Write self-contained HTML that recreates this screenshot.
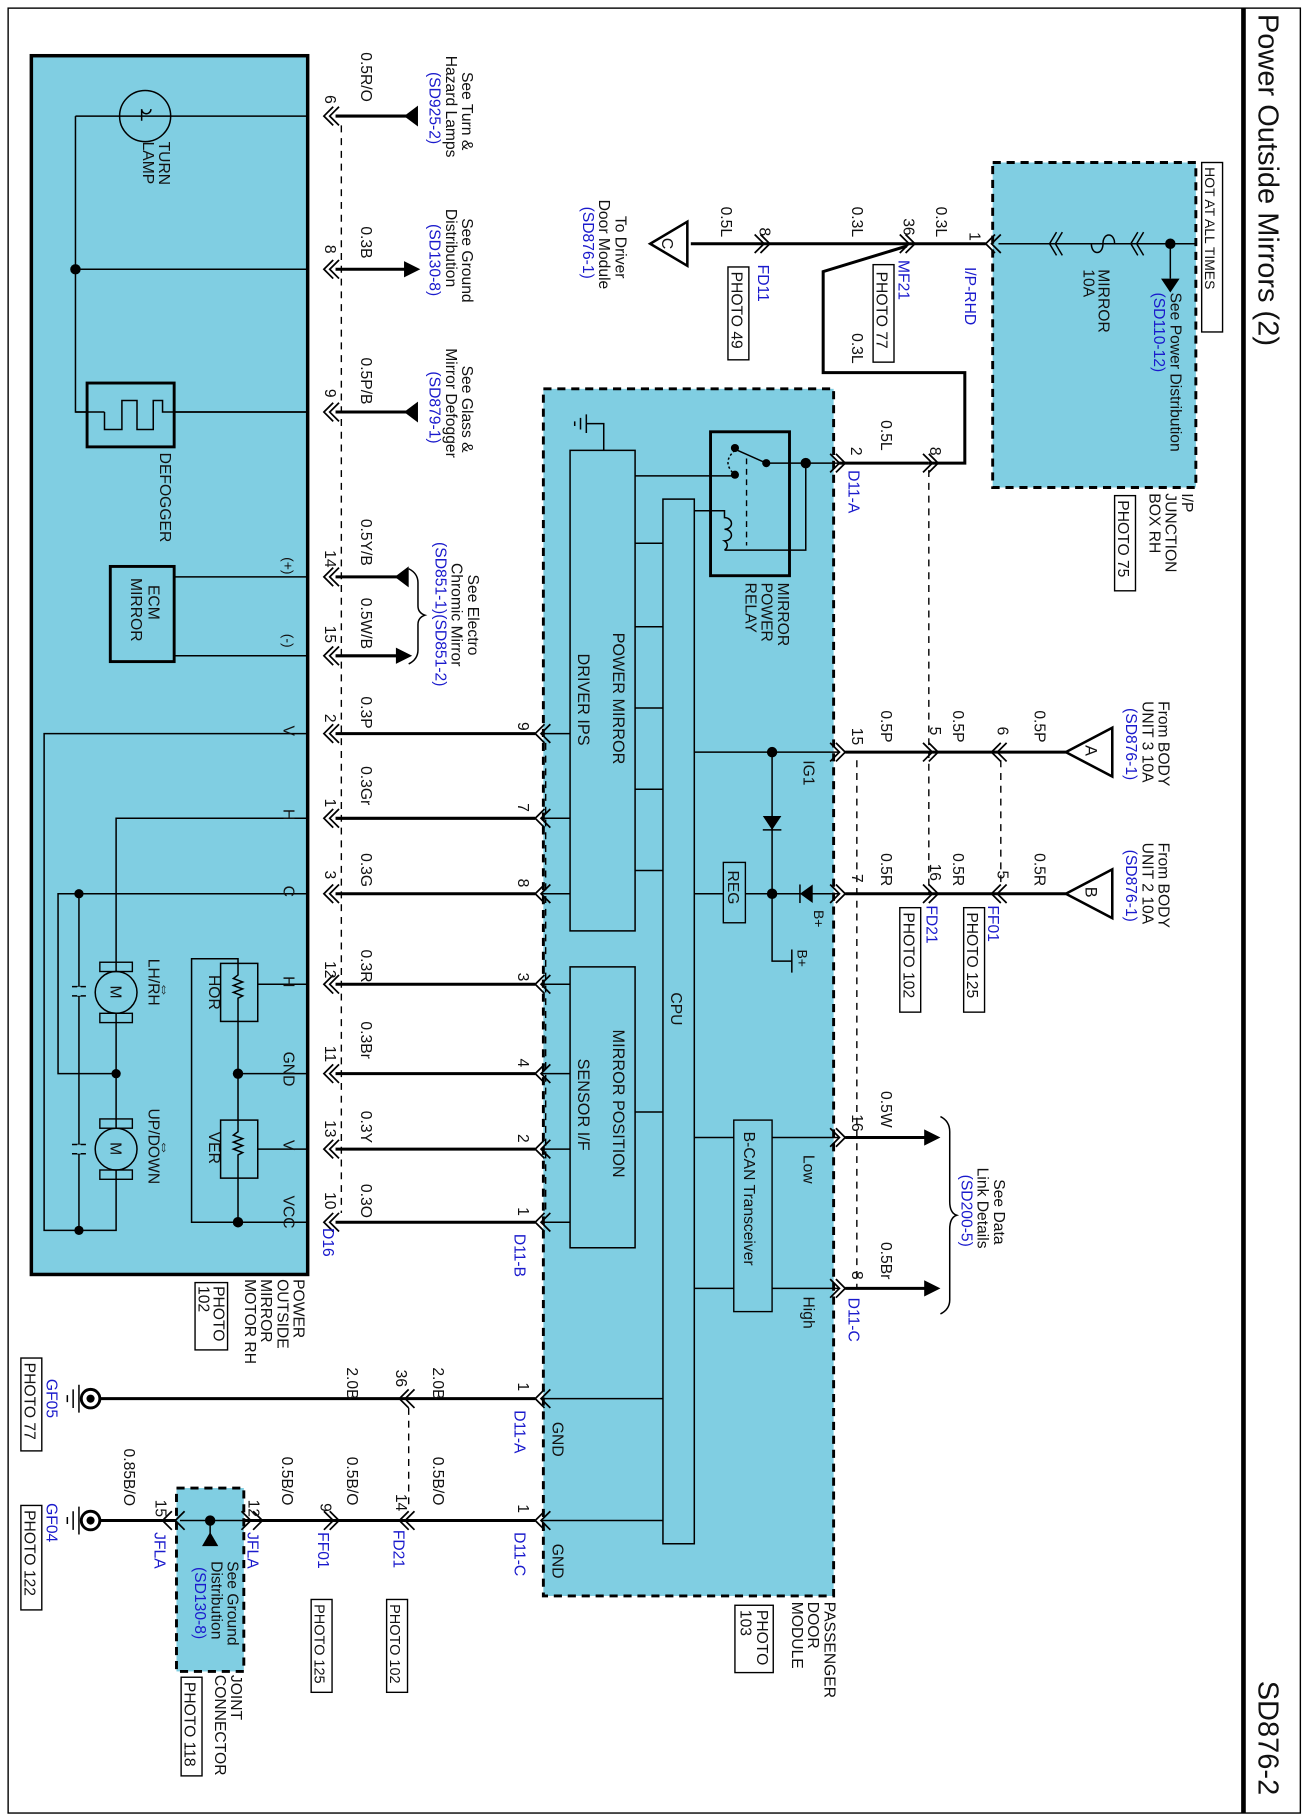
<!DOCTYPE html>
<html><head><meta charset="utf-8"><style>
html,body{margin:0;padding:0;background:#fff;}
svg{display:block}
text{font-family:"Liberation Sans",Arial,sans-serif;font-size:13.5px;fill:#111}
.b{fill:#1a1acc}
.s{font-size:12px}
.w{stroke:#000;stroke-width:2.6;fill:none}
.n{stroke:#000;stroke-width:1.3;fill:none}
.d{stroke:#000;stroke-width:1.2;fill:none;stroke-dasharray:6,5}
.ch{stroke:#000;stroke-width:1.5;fill:none}
</style></head><body>
<svg width="1305" height="1820" viewBox="0 0 1124 1568" preserveAspectRatio="none" xmlns="http://www.w3.org/2000/svg">
<rect x="7" y="7" width="1113" height="1555" fill="none" stroke="#000" stroke-width="1.2"/>
<line x1="1071" y1="7" x2="1071" y2="1562" stroke="#000" stroke-width="4"/>
<text x="1084" y="12" transform="rotate(90 1084 12)" style="font-size:25px">Power Outside Mirrors (2)</text>
<text x="1084" y="1448" transform="rotate(90 1084 1448)" style="font-size:25px">SD876-2</text>

<!-- junction box -->
<rect x="855" y="140" width="175" height="280" fill="#80cee2" stroke="#000" stroke-width="2.5" stroke-dasharray="7,5"/>
<rect x="1035" y="140" width="18" height="146" fill="#fff" stroke="#000" stroke-width="1.2"/>
<text x="1038" y="144" transform="rotate(90 1038 144)" class="s">HOT AT ALL TIMES</text>
<path class="n" d="M1030 210 H860"/>
<circle cx="1008" cy="210" r="4.5"/>
<path class="n" d="M1008 210 V240"/><path d="M1000 240 L1016 240 L1008 252Z"/>
<text x="1008" y="252" transform="rotate(90 1008 252)">See Power Distribution</text>
<text x="994" y="252" transform="rotate(90 994 252)" class="b">(SD110-12)</text>
<path class="n" d="M985 200 L979 210 L985 220 M980 200 L974 210 L980 220"/>
<path class="n" d="M960 210 C 960 200, 950 200, 950 210 C 950 220, 940 220, 940 210"/>
<path class="n" d="M915 200 L909 210 L915 220 M910 200 L904 210 L910 220"/>
<text x="946" y="232" transform="rotate(90 946 232)">MIRROR</text>
<text x="933" y="232" transform="rotate(90 933 232)">10A</text>
<text x="1018" y="425" transform="rotate(90 1018 425)">I/P</text>
<text x="1004" y="425" transform="rotate(90 1004 425)">JUNCTION</text>
<text x="990" y="425" transform="rotate(90 990 425)">BOX RH</text>
<rect x="960" y="427" width="18" height="82" fill="none" stroke="#000" stroke-width="1.2"/>
<text x="963" y="431" transform="rotate(90 963 431)">PHOTO 75</text>

<!-- top wire -->
<path class="ch" d="M857 202 L849 210 L857 218 M862 202 L854 210 L862 218"/>
<path class="w" d="M849 210 H595"/>
<text x="835" y="200" transform="rotate(90 835 200)">1</text>
<text x="831" y="230" transform="rotate(90 831 230)" class="b">I/P-RHD</text>
<text x="806" y="178" transform="rotate(90 806 178)">0.3L</text>
<path class="ch" d="M775 202 L783 210 L775 218 M780 202 L788 210 L780 218"/>
<text x="778" y="188" transform="rotate(90 778 188)">36</text>
<text x="774" y="224" transform="rotate(90 774 224)" class="b">MF21</text>
<rect x="752" y="228" width="18" height="84" fill="none" stroke="#000" stroke-width="1.2"/>
<text x="755" y="234" transform="rotate(90 755 234)">PHOTO 77</text>
<text x="734" y="178" transform="rotate(90 734 178)">0.3L</text>
<text x="734" y="287" transform="rotate(90 734 287)">0.3L</text>
<path class="w" d="M781 212 L709 234 V321 H831 V399 H800"/>
<path class="ch" d="M650 202 L658 210 L650 218 M655 202 L663 210 L655 218"/>
<text x="654" y="196" transform="rotate(90 654 196)">8</text>
<text x="621" y="178" transform="rotate(90 621 178)">0.5L</text>
<text x="653" y="228" transform="rotate(90 653 228)" class="b">FD11</text>
<rect x="627" y="230" width="18" height="80" fill="none" stroke="#000" stroke-width="1.2"/>
<text x="630" y="234" transform="rotate(90 630 234)">PHOTO 49</text>
<path d="M592 191 L592 229 L560 210Z" fill="#fff" stroke="#000" stroke-width="2.2"/>
<text x="570" y="205" transform="rotate(90 570 205)">C</text>
<text x="530" y="186" transform="rotate(90 530 186)">To Driver</text>
<text x="516" y="172" transform="rotate(90 516 172)">Door Module</text>
<text x="502" y="178" transform="rotate(90 502 178)" class="b">(SD876-1)</text>

<!-- wire to D11-A pin 2 -->
<path class="ch" d="M795 391 L803 399 L795 407 M800 391 L808 399 L800 407"/>
<text x="801" y="385" transform="rotate(90 801 385)">8</text>
<path class="w" d="M800 399 H722"/>
<text x="759" y="362" transform="rotate(90 759 362)">0.5L</text>
<text x="733" y="385" transform="rotate(90 733 385)">2</text>
<text x="731" y="405" transform="rotate(90 731 405)" class="b">D11-A</text>
<path class="d" d="M800 405 V770"/>

<!-- module -->
<rect x="468" y="335" width="250" height="1040" fill="#80cee2" stroke="#000" stroke-width="2.5" stroke-dasharray="7,5"/>
<text x="710" y="1380" transform="rotate(90 710 1380)">PASSENGER</text>
<text x="696" y="1380" transform="rotate(90 696 1380)">DOOR</text>
<text x="682" y="1380" transform="rotate(90 682 1380)">MODULE</text>
<rect x="633" y="1383" width="33" height="58" fill="none" stroke="#000" stroke-width="1.2"/>
<text x="652" y="1387" transform="rotate(90 652 1387)">PHOTO</text>
<text x="638" y="1387" transform="rotate(90 638 1387)">103</text>
<!-- relay -->
<rect x="612" y="372" width="68" height="124" fill="none" stroke="#000" stroke-width="2.5"/>
<path class="n" d="M722 399 H660 L633 387"/>
<circle cx="633" cy="386" r="3.5"/><circle cx="633" cy="409" r="3.5"/><circle cx="660" cy="399" r="3.5"/><circle cx="694" cy="399" r="4.5"/>
<path d="M633 388 C625 395, 625 402, 633 409" stroke="#000" stroke-width="1.3" fill="none" stroke-dasharray="2,2"/>
<path class="n" d="M547 410 H633"/>
<path d="M643 395 V470" stroke="#000" stroke-width="1.2" stroke-dasharray="5,4"/>
<path class="n" d="M694 399 V474 H624 M598 440 H624 V446 a6 5 0 0 1 0 10 a6 5 0 0 1 0 10 a6 5 0 0 1 0 8"/>
<text x="670" y="502" transform="rotate(90 670 502)">MIRROR</text>
<text x="656" y="502" transform="rotate(90 656 502)">POWER</text>
<text x="642" y="502" transform="rotate(90 642 502)">RELAY</text>
<!-- ground in module -->
<path class="n" d="M520 388 V365 H505 M505 357 V373 M500 360 V370 M495 363 V367"/>
<!-- IPS -->
<rect x="491" y="388" width="56" height="414" fill="none" stroke="#000" stroke-width="1.3"/>
<text x="528" y="545" transform="rotate(90 528 545)" style="font-size:14px">POWER MIRROR</text>
<text x="498" y="563" transform="rotate(90 498 563)" style="font-size:14px">DRIVER IPS</text>
<!-- CPU -->
<rect x="571" y="430" width="27" height="900" fill="none" stroke="#000" stroke-width="1.3"/>
<text x="578" y="855" transform="rotate(90 578 855)">CPU</text>
<path class="n" d="M547 468 H571 M547 540 H571 M547 610 H571 M547 680 H571 M547 750 H571 M547 958 H571"/>
<!-- Sensor -->
<rect x="491" y="833" width="56" height="242" fill="none" stroke="#000" stroke-width="1.3"/>
<text x="528" y="887" transform="rotate(90 528 887)" style="font-size:14px">MIRROR POSITION</text>
<text x="498" y="912" transform="rotate(90 498 912)" style="font-size:14px">SENSOR I/F</text>
<!-- IG1 / B+ -->
<path class="n" d="M598 648 H722 M665 648 V828 H682 M682 818 V838"/>
<circle cx="665" cy="648" r="4.5"/><circle cx="665" cy="770" r="4.5"/>
<path d="M657 703 L673 703 L665 715Z"/><path class="n" d="M657 715 H673"/>
<path class="n" d="M598 770 H623 M642 770 H722"/>
<rect x="623" y="743" width="19" height="52" fill="none" stroke="#000" stroke-width="1.2"/>
<text x="627" y="750" transform="rotate(90 627 750)">REG</text>
<path d="M700 762 L700 778 L689 770Z"/><path class="n" d="M689 762 V778"/>
<text x="692" y="655" transform="rotate(90 692 655)">IG1</text>
<text x="701" y="784" transform="rotate(90 701 784)" class="s">B+</text>
<text x="687" y="818" transform="rotate(90 687 818)" class="s">B+</text>
<!-- B-CAN -->
<rect x="632" y="965" width="33" height="165" fill="none" stroke="#000" stroke-width="1.2"/>
<text x="641" y="975" transform="rotate(90 641 975)">B-CAN Transceiver</text>
<path class="n" d="M598 980 H632 M665 980 H722 M598 1110 H632 M665 1110 H722"/>
<text x="692" y="995" transform="rotate(90 692 995)">Low</text>
<text x="692" y="1117" transform="rotate(90 692 1117)">High</text>
<!-- module right chevrons -->
<path class="ch" d="M715 391 L723 399 L715 407 M715 640 L723 648 L715 656 M715 762 L723 770 L715 778 M715 972 L723 980 L715 988 M715 1102 L723 1110 L715 1118"/>
<path class="ch" d="M720 391 L728 399 L720 407 M720 640 L728 648 L720 656 M720 762 L728 770 L720 778 M720 972 L728 980 L720 988 M720 1102 L728 1110 L720 1118"/>
<path class="d" d="M738 655 V1110"/>

<!-- IG1 external -->
<path class="w" d="M728 648 H918 M728 770 H918"/>
<text x="734" y="627" transform="rotate(90 734 627)">15</text>
<text x="759" y="612" transform="rotate(90 759 612)">0.5P</text>
<path class="ch" d="M795 640 L803 648 L795 656 M800 640 L808 648 L800 656"/>
<text x="801" y="626" transform="rotate(90 801 626)">5</text>
<text x="821" y="612" transform="rotate(90 821 612)">0.5P</text>
<path class="ch" d="M862 640 L854 648 L862 656 M867 640 L859 648 L867 656"/>
<text x="859" y="626" transform="rotate(90 859 626)">6</text>
<text x="891" y="612" transform="rotate(90 891 612)">0.5P</text>
<path d="M918 648 L958 627 L958 669Z" fill="#fff" stroke="#000" stroke-width="2.2"/>
<text x="935" y="642" transform="rotate(90 935 642)" style="font-size:14px">A</text>
<text x="998" y="604" transform="rotate(90 998 604)">From BODY</text>
<text x="984" y="604" transform="rotate(90 984 604)">UNIT 3 10A</text>
<text x="970" y="610" transform="rotate(90 970 610)" class="b">(SD876-1)</text>
<path class="d" d="M862 655 V762"/>
<text x="734" y="753" transform="rotate(90 734 753)">7</text>
<text x="759" y="735" transform="rotate(90 759 735)">0.5R</text>
<path class="ch" d="M795 762 L803 770 L795 778 M800 762 L808 770 L800 778"/>
<text x="801" y="744" transform="rotate(90 801 744)">16</text>
<text x="798" y="780" transform="rotate(90 798 780)" class="b">FD21</text>
<rect x="775" y="782" width="18" height="90" fill="none" stroke="#000" stroke-width="1.2"/>
<text x="778" y="786" transform="rotate(90 778 786)">PHOTO 102</text>
<text x="821" y="735" transform="rotate(90 821 735)">0.5R</text>
<path class="ch" d="M862 762 L854 770 L862 778 M867 762 L859 770 L867 778"/>
<text x="859" y="750" transform="rotate(90 859 750)">5</text>
<text x="851" y="780" transform="rotate(90 851 780)" class="b">FF01</text>
<rect x="830" y="782" width="18" height="90" fill="none" stroke="#000" stroke-width="1.2"/>
<text x="833" y="786" transform="rotate(90 833 786)">PHOTO 125</text>
<text x="891" y="735" transform="rotate(90 891 735)">0.5R</text>
<path d="M918 770 L958 749 L958 791Z" fill="#fff" stroke="#000" stroke-width="2.2"/>
<text x="935" y="764" transform="rotate(90 935 764)" style="font-size:14px">B</text>
<text x="998" y="726" transform="rotate(90 998 726)">From BODY</text>
<text x="984" y="726" transform="rotate(90 984 726)">UNIT 2 10A</text>
<text x="970" y="732" transform="rotate(90 970 732)" class="b">(SD876-1)</text>
<!-- CAN external -->
<path class="w" d="M728 980 H798 M728 1110 H798"/>
<path d="M796 973 L810 980 L796 987Z M796 1103 L810 1110 L796 1117Z"/>
<text x="734" y="960" transform="rotate(90 734 960)">16</text>
<text x="759" y="940" transform="rotate(90 759 940)">0.5W</text>
<text x="734" y="1095" transform="rotate(90 734 1095)">8</text>
<text x="759" y="1070" transform="rotate(90 759 1070)">0.5Br</text>
<text x="731" y="1118" transform="rotate(90 731 1118)" class="b">D11-C</text>
<path class="n" d="M810 962 Q818 966 818 975 V1035 Q818 1045 824 1047 Q818 1049 818 1059 V1120 Q818 1128 810 1132"/>
<text x="856" y="1016" transform="rotate(90 856 1016)">See Data</text>
<text x="842" y="1006" transform="rotate(90 842 1006)">Link Details</text>
<text x="828" y="1012" transform="rotate(90 828 1012)" class="b">(SD200-5)</text>

<!-- module left pins -->
<path class="n" d="M491 632 H466 M491 705 H466 M491 770 H466 M491 848 H466 M491 925 H466 M491 990 H466 M491 1053 H466 M571 1205 H466 M571 1310 H466"/>
<path class="ch" d="M474 624 L466 632 L474 640 M474 697 L466 705 L474 713 M474 762 L466 770 L474 778 M474 840 L466 848 L474 856 M474 917 L466 925 L474 933 M474 982 L466 990 L474 998 M474 1045 L466 1053 L474 1061 M474 1197 L466 1205 L474 1213 M474 1302 L466 1310 L474 1318"/>
<path class="ch" d="M469 624 L461 632 L469 640 M469 697 L461 705 L469 713 M469 762 L461 770 L469 778 M469 840 L461 848 L469 856 M469 917 L461 925 L469 933 M469 982 L461 990 L469 998 M469 1045 L461 1053 L469 1061 M469 1197 L461 1205 L469 1213 M469 1302 L461 1310 L469 1318"/>
<path class="d" d="M470 640 V1045"/>
<text x="446" y="622" transform="rotate(90 446 622)">9</text>
<text x="446" y="692" transform="rotate(90 446 692)">7</text>
<text x="446" y="757" transform="rotate(90 446 757)">8</text>
<text x="446" y="838" transform="rotate(90 446 838)">3</text>
<text x="446" y="912" transform="rotate(90 446 912)">4</text>
<text x="446" y="977" transform="rotate(90 446 977)">2</text>
<text x="446" y="1040" transform="rotate(90 446 1040)">1</text>
<text x="443" y="1063" transform="rotate(90 443 1063)" class="b">D11-B</text>
<text x="446" y="1191" transform="rotate(90 446 1191)">1</text>
<text x="443" y="1215" transform="rotate(90 443 1215)" class="b">D11-A</text>
<text x="446" y="1296" transform="rotate(90 446 1296)">1</text>
<text x="443" y="1320" transform="rotate(90 443 1320)" class="b">D11-C</text>
<text x="476" y="1225" transform="rotate(90 476 1225)">GND</text>
<text x="476" y="1330" transform="rotate(90 476 1330)">GND</text>

<!-- motor-module wires -->
<path class="w" d="M461 632 H289 M461 705 H289 M461 770 H289 M461 848 H289 M461 925 H289 M461 990 H289 M461 1053 H289"/>
<path class="w" d="M289 100 H352 M289 232 H350 M289 355 H352 M289 497 H344 M289 565 H350"/>
<path d="M360 91 L360 109 L348 100Z M360 346 L360 364 L348 355Z M352 488 L352 506 L340 497Z"/>
<path d="M348 225 L362 232 L348 239Z M341 558 L355 565 L341 572Z"/>
<path class="n" d="M352 490 Q360 494 360 502 V522 Q360 528 366 530 Q360 532 360 538 V560 Q360 568 352 572"/>
<!-- motor-side chevrons -->
<path class="ch" d="M287 92 L279 100 L287 108 M292 92 L284 100 L292 108 M287 224 L279 232 L287 240 M292 224 L284 232 L292 240 M287 347 L279 355 L287 363 M292 347 L284 355 L292 363 M287 489 L279 497 L287 505 M292 489 L284 497 L292 505 M287 557 L279 565 L287 573 M292 557 L284 565 L292 573 M287 624 L279 632 L287 640 M292 624 L284 632 L292 640 M287 697 L279 705 L287 713 M292 697 L284 705 L292 713 M287 762 L279 770 L287 778 M292 762 L284 770 L292 778 M287 840 L279 848 L287 856 M292 840 L284 848 L292 856 M287 917 L279 925 L287 933 M292 917 L284 925 L292 933 M287 982 L279 990 L287 998 M292 982 L284 990 L292 998 M287 1045 L279 1053 L287 1061 M292 1045 L284 1053 L292 1061"/>
<path class="d" d="M294 108 V1045"/>
<text x="280" y="82" transform="rotate(90 280 82)">6</text>
<text x="280" y="211" transform="rotate(90 280 211)">8</text>
<text x="280" y="335" transform="rotate(90 280 335)">9</text>
<text x="280" y="474" transform="rotate(90 280 474)">14</text>
<text x="280" y="539" transform="rotate(90 280 539)">15</text>
<text x="280" y="615" transform="rotate(90 280 615)">2</text>
<text x="280" y="688" transform="rotate(90 280 688)">1</text>
<text x="280" y="750" transform="rotate(90 280 750)">3</text>
<text x="280" y="828" transform="rotate(90 280 828)">12</text>
<text x="280" y="901" transform="rotate(90 280 901)">11</text>
<text x="280" y="965" transform="rotate(90 280 965)">13</text>
<text x="280" y="1027" transform="rotate(90 280 1027)">10</text>
<text x="278" y="1058" transform="rotate(90 278 1058)" class="b">D16</text>
<text x="311" y="45" transform="rotate(90 311 45)">0.5R/O</text>
<text x="311" y="195" transform="rotate(90 311 195)">0.3B</text>
<text x="311" y="308" transform="rotate(90 311 308)">0.5P/B</text>
<text x="311" y="447" transform="rotate(90 311 447)">0.5Y/B</text>
<text x="311" y="515" transform="rotate(90 311 515)">0.5W/B</text>
<text x="311" y="600" transform="rotate(90 311 600)">0.3P</text>
<text x="311" y="660" transform="rotate(90 311 660)">0.3Gr</text>
<text x="311" y="735" transform="rotate(90 311 735)">0.3G</text>
<text x="311" y="818" transform="rotate(90 311 818)">0.3R</text>
<text x="311" y="880" transform="rotate(90 311 880)">0.3Br</text>
<text x="311" y="957" transform="rotate(90 311 957)">0.3Y</text>
<text x="311" y="1020" transform="rotate(90 311 1020)">0.3O</text>
<text x="398" y="62" transform="rotate(90 398 62)">See Turn &amp;</text>
<text x="384" y="48" transform="rotate(90 384 48)">Hazard Lamps</text>
<text x="370" y="62" transform="rotate(90 370 62)" class="b">(SD925-2)</text>
<text x="398" y="188" transform="rotate(90 398 188)">See Ground</text>
<text x="384" y="180" transform="rotate(90 384 180)">Distribution</text>
<text x="370" y="193" transform="rotate(90 370 193)" class="b">(SD130-8)</text>
<text x="398" y="315" transform="rotate(90 398 315)">See Glass &amp;</text>
<text x="384" y="300" transform="rotate(90 384 300)">Mirror Defogger</text>
<text x="370" y="320" transform="rotate(90 370 320)" class="b">(SD879-1)</text>
<text x="403" y="495" transform="rotate(90 403 495)">See Electro</text>
<text x="389" y="485" transform="rotate(90 389 485)">Chromic Mirror</text>
<text x="375" y="467" transform="rotate(90 375 467)" class="b">(SD851-1)(SD851-2)</text>

<!-- motor box -->
<rect x="27" y="48" width="238" height="1050" fill="#80cee2" stroke="#000" stroke-width="3"/>
<text x="253" y="1102" transform="rotate(90 253 1102)">POWER</text>
<text x="239" y="1102" transform="rotate(90 239 1102)">OUTSIDE</text>
<text x="225" y="1102" transform="rotate(90 225 1102)">MIRROR</text>
<text x="211" y="1102" transform="rotate(90 211 1102)">MOTOR RH</text>
<rect x="168" y="1105" width="28" height="58" fill="none" stroke="#000" stroke-width="1.2"/>
<text x="184" y="1108" transform="rotate(90 184 1108)">PHOTO</text>
<text x="171" y="1108" transform="rotate(90 171 1108)">102</text>
<!-- turn lamp -->
<circle cx="125" cy="100" r="22" fill="none" stroke="#000" stroke-width="1.3"/>
<path class="n" d="M65 100 H265 M65 100 V355 H265 M65 232 H265"/>
<path class="n" d="M130 94 a4 4 0 1 1 -8 0 M122 94 v10"/>
<circle cx="65" cy="232" r="4.5"/>
<text x="137" y="122" transform="rotate(90 137 122)">TURN</text>
<text x="123" y="122" transform="rotate(90 123 122)">LAMP</text>
<rect x="75" y="330" width="75" height="55" fill="#80cee2" stroke="#000" stroke-width="2.5"/>
<path class="n" d="M65 355 H90 M90 355 V370 H105 V345 H118 V370 H132 V345 H140 V355 H265"/>
<text x="138" y="390" transform="rotate(90 138 390)">DEFOGGER</text>
<rect x="95" y="488" width="55" height="82" fill="none" stroke="#000" stroke-width="2.5"/>
<text x="128" y="504" transform="rotate(90 128 504)">ECM</text>
<text x="113" y="498" transform="rotate(90 113 498)">MIRROR</text>
<path class="n" d="M150 497 H265 M150 565 H265"/>
<text x="244" y="480" transform="rotate(90 244 480)" class="s">(+)</text>
<text x="244" y="546" transform="rotate(90 244 546)" class="s">(-)</text>
<!-- motor internals -->
<path class="n" d="M265 632 H38 V1060 H100 V1007 M265 705 H100 V838 M100 872 V973 M265 770 H68 V1060 M68 770 H50 V925 H100"/>
<circle cx="68" cy="770" r="4"/><circle cx="68" cy="1060" r="4"/><circle cx="100" cy="925" r="4"/>
<path class="n" d="M62 850 H74 M62 858 H74 M62 986 H74 M62 994 H74" stroke-width="1.5"/>
<path d="M68 850 V858 M68 986 V994" stroke="#80cee2" stroke-width="3"/>
<circle cx="100" cy="855" r="18" fill="#80cee2" stroke="#000" stroke-width="1.3"/>
<circle cx="100" cy="990" r="18" fill="#80cee2" stroke="#000" stroke-width="1.3"/>
<rect x="86" y="829" width="28" height="8" fill="none" stroke="#000" stroke-width="1.2"/>
<rect x="86" y="873" width="28" height="8" fill="none" stroke="#000" stroke-width="1.2"/>
<rect x="86" y="964" width="28" height="8" fill="none" stroke="#000" stroke-width="1.2"/>
<rect x="86" y="1008" width="28" height="8" fill="none" stroke="#000" stroke-width="1.2"/>
<text x="95" y="849" transform="rotate(90 95 849)">M</text>
<text x="95" y="984" transform="rotate(90 95 984)">M</text>
<text x="128" y="826" transform="rotate(90 128 826)">LH/RH</text>
<text x="128" y="955" transform="rotate(90 128 955)">UP/DOWN</text>
<text x="138" y="846" transform="rotate(90 138 846)">⇔</text>
<text x="138" y="982" transform="rotate(90 138 982)">⇔</text>
<path class="n" d="M265 1053 H165 V826 H205 V1053 M222 848 H265 M205 925 H265 M222 990 H265"/>
<rect x="190" y="830" width="32" height="50" fill="#80cee2" stroke="#000" stroke-width="1.3"/>
<rect x="190" y="965" width="32" height="50" fill="#80cee2" stroke="#000" stroke-width="1.3"/>
<path class="n" d="M205 830 V840 l-4 3 l8 3 l-8 3 l8 3 l-8 3 l8 3 l-4 2 V880 M205 965 V975 l-4 3 l8 3 l-8 3 l8 3 l-8 3 l8 3 l-4 2 V1015"/>
<circle cx="205" cy="925" r="4.5"/><circle cx="205" cy="1053" r="4.5"/>
<text x="180" y="840" transform="rotate(90 180 840)">HOR</text>
<text x="180" y="975" transform="rotate(90 180 975)">VER</text>
<text x="244" y="625" transform="rotate(90 244 625)">V</text>
<text x="244" y="697" transform="rotate(90 244 697)">H</text>
<text x="244" y="763" transform="rotate(90 244 763)">C</text>
<text x="244" y="841" transform="rotate(90 244 841)">H</text>
<text x="244" y="906" transform="rotate(90 244 906)">GND</text>
<text x="244" y="982" transform="rotate(90 244 982)">V</text>
<text x="244" y="1030" transform="rotate(90 244 1030)">VCC</text>

<!-- ground wires -->
<path class="w" d="M461 1205 H82 M461 1310 H82"/>
<path class="ch" d="M352 1197 L344 1205 L352 1213 M357 1197 L349 1205 L357 1213 M352 1302 L344 1310 L352 1318 M357 1302 L349 1310 L357 1318"/>
<path class="d" d="M352 1213 V1300"/>
<text x="373" y="1178" transform="rotate(90 373 1178)">2.0B</text>
<text x="341" y="1180" transform="rotate(90 341 1180)">36</text>
<text x="299" y="1178" transform="rotate(90 299 1178)">2.0B</text>
<text x="373" y="1255" transform="rotate(90 373 1255)">0.5B/O</text>
<text x="341" y="1287" transform="rotate(90 341 1287)">14</text>
<text x="339" y="1318" transform="rotate(90 339 1318)" class="b">FD21</text>
<rect x="333" y="1378" width="18" height="80" fill="none" stroke="#000" stroke-width="1.2"/>
<text x="336" y="1382" transform="rotate(90 336 1382)" style="font-size:12.5px">PHOTO 102</text>
<text x="299" y="1255" transform="rotate(90 299 1255)">0.5B/O</text>
<path class="ch" d="M279 1302 L287 1310 L279 1318 M284 1302 L292 1310 L284 1318"/>
<text x="276" y="1295" transform="rotate(90 276 1295)">9</text>
<text x="274" y="1320" transform="rotate(90 274 1320)" class="b">FF01</text>
<rect x="268" y="1378" width="18" height="80" fill="none" stroke="#000" stroke-width="1.2"/>
<text x="271" y="1382" transform="rotate(90 271 1382)" style="font-size:12.5px">PHOTO 125</text>
<text x="243" y="1255" transform="rotate(90 243 1255)">0.5B/O</text>
<!-- joint connector -->
<rect x="152" y="1282" width="58" height="158" fill="#80cee2" stroke="#000" stroke-width="2.5" stroke-dasharray="7,5"/>
<path class="ch" d="M218 1302 L226 1310 L218 1318 M208 1302 L216 1310 L208 1318 M148 1302 L140 1310 L148 1318 M159 1302 L151 1310 L159 1318"/>
<path class="n" d="M210 1310 H155 M181 1310 V1330"/>
<circle cx="181" cy="1310" r="4.5"/><path d="M174 1332 L188 1332 L181 1320Z"/>
<text x="196" y="1345" transform="rotate(90 196 1345)">See Ground</text>
<text x="182" y="1345" transform="rotate(90 182 1345)">Distribution</text>
<text x="168" y="1350" transform="rotate(90 168 1350)" class="b">(SD130-8)</text>
<text x="214" y="1292" transform="rotate(90 214 1292)">12</text>
<text x="213" y="1320" transform="rotate(90 213 1320)" class="b">JFLA</text>
<text x="134" y="1292" transform="rotate(90 134 1292)">15</text>
<text x="133" y="1320" transform="rotate(90 133 1320)" class="b">JFLA</text>
<text x="107" y="1248" transform="rotate(90 107 1248)">0.85B/O</text>
<text x="199" y="1443" transform="rotate(90 199 1443)">JOINT</text>
<text x="185" y="1443" transform="rotate(90 185 1443)">CONNECTOR</text>
<rect x="156" y="1445" width="18" height="85" fill="none" stroke="#000" stroke-width="1.2"/>
<text x="159" y="1449" transform="rotate(90 159 1449)">PHOTO 118</text>
<!-- ground symbols -->
<g>
<circle cx="78" cy="1205" r="8" fill="#fff" stroke="#000" stroke-width="2.5"/><circle cx="78" cy="1205" r="3.5"/>
<path class="n" d="M68 1193 V1217 M63 1197 V1213 M58 1202 V1208" stroke-width="2"/>
<circle cx="78" cy="1310" r="8" fill="#fff" stroke="#000" stroke-width="2.5"/><circle cx="78" cy="1310" r="3.5"/>
<path class="n" d="M68 1298 V1322 M63 1302 V1318 M58 1307 V1313" stroke-width="2"/>
</g>
<text x="40" y="1188" transform="rotate(90 40 1188)" class="b">GF05</text>
<rect x="18" y="1170" width="18" height="80" fill="none" stroke="#000" stroke-width="1.2"/>
<text x="21" y="1174" transform="rotate(90 21 1174)">PHOTO 77</text>
<text x="40" y="1295" transform="rotate(90 40 1295)" class="b">GF04</text>
<rect x="18" y="1297" width="18" height="90" fill="none" stroke="#000" stroke-width="1.2"/>
<text x="21" y="1301" transform="rotate(90 21 1301)">PHOTO 122</text>
</svg>
</body></html>
